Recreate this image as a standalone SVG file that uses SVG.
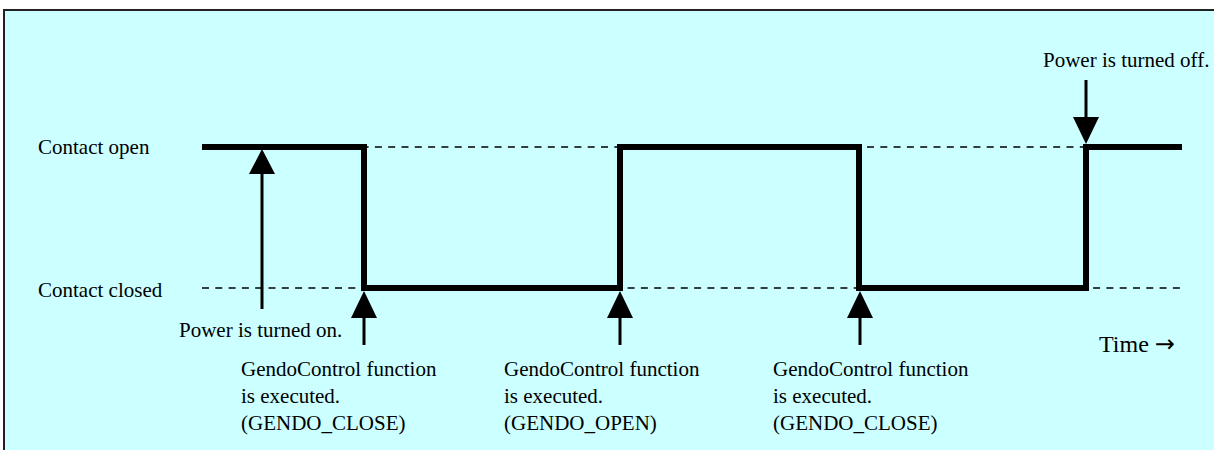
<svg xmlns="http://www.w3.org/2000/svg" width="1214" height="450" viewBox="0 0 1214 450">
<style>
.lbl{font-family:'Liberation Serif','Times New Roman','DejaVu Serif',serif;font-size:21px;fill:#000}
.big{font-size:24px}
.arr{font-family:'DejaVu Sans','DejaVu Serif',sans-serif;font-size:24px}
.dash{stroke:#000;stroke-width:1.6;stroke-dasharray:7 6.3;fill:none}
.sig{stroke:#000;stroke-width:6;fill:none;stroke-linejoin:miter;stroke-linecap:butt}
.shaft{stroke:#000;stroke-width:3;fill:none}
.head{fill:#000}
</style>
<rect x="0" y="0" width="1214" height="450" fill="#fff"/>
<rect x="4" y="10" width="1220" height="450" fill="#CCFFFF" stroke="#222" stroke-width="2"/>
<g id="levels">
<text id="label-open" class="lbl" x="38" y="154">Contact open</text>
<text id="label-closed" class="lbl" x="38" y="297">Contact closed</text>
<text id="label-time" class="lbl big" x="1099" y="352">Time <tspan class="arr">→</tspan></text>
</g>
<g id="signal">
<line class="dash" x1="202" y1="147" x2="1183" y2="147"/>
<line class="dash" x1="202" y1="288" x2="1183" y2="288"/>
<path class="sig" d="M202,147 H364 V288 H620 V147 H859 V288 H1086 V147 H1182"/>
</g>
<g id="connectors">
<line class="shaft" x1="262" y1="309" x2="262" y2="172"/>
<polygon class="head" points="262,149 249,174 275,174"/>
<line class="shaft" x1="364" y1="345" x2="364" y2="316"/>
<polygon class="head" points="364,291 351,318 377,318"/>
<line class="shaft" x1="620" y1="345" x2="620" y2="316"/>
<polygon class="head" points="620,291 607,318 633,318"/>
<line class="shaft" x1="860" y1="345" x2="860" y2="316"/>
<polygon class="head" points="860,291 847,318 873,318"/>
<line class="shaft" x1="1086" y1="80" x2="1086" y2="119"/>
<polygon class="head" points="1086,144 1073,117 1099,117"/>
</g>
<g id="power-on">
<text class="lbl" x="179" y="337">Power is turned on.</text>
</g>
<g id="power-off">
<text class="lbl" x="1043" y="67">Power is turned off.</text>
</g>
<g id="gendo-close-1">
<text class="lbl" x="241" y="376">GendoControl function</text>
<text class="lbl" x="241" y="403">is executed.</text>
<text class="lbl" x="241" y="430">(GENDO_CLOSE)</text>
</g>
<g id="gendo-open">
<text class="lbl" x="504" y="376">GendoControl function</text>
<text class="lbl" x="504" y="403">is executed.</text>
<text class="lbl" x="504" y="430">(GENDO_OPEN)</text>
</g>
<g id="gendo-close-2">
<text class="lbl" x="773" y="376">GendoControl function</text>
<text class="lbl" x="773" y="403">is executed.</text>
<text class="lbl" x="773" y="430">(GENDO_CLOSE)</text>
</g>
</svg>
